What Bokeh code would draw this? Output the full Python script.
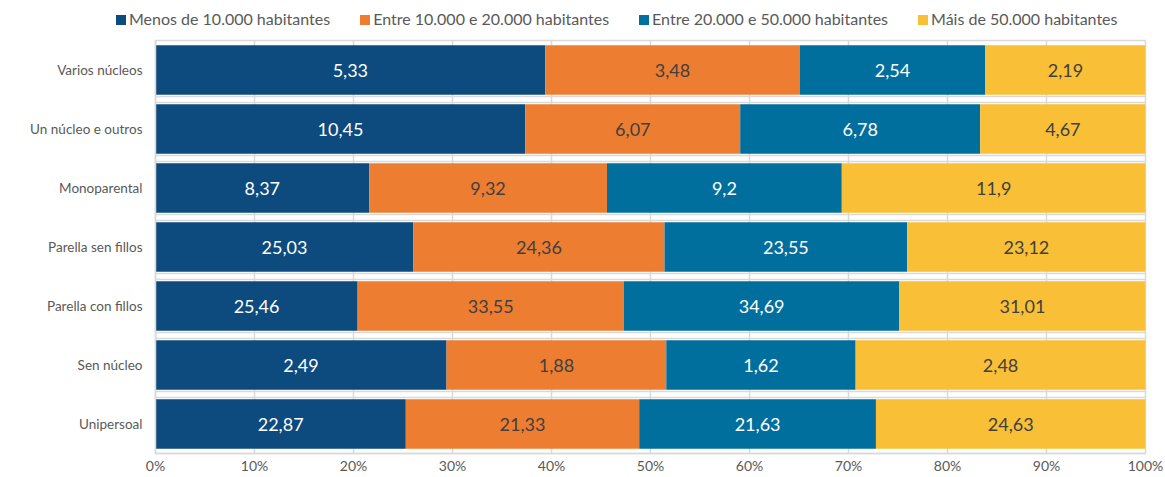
import numpy as np
from bokeh.plotting import figure
from bokeh.layouts import column
from bokeh.models import (ColumnDataSource, Range1d, FixedTicker, Grid, Div,
                          NumeralTickFormatter)
from bokeh.core.properties import value
from bokeh.embed import file_html
from bokeh.resources import INLINE

categories = ["Varios núcleos", "Un núcleo e outros", "Monoparental", "Parella sen fillos",
              "Parella con fillos", "Sen núcleo", "Unipersoal"]
series = ["Menos de 10.000 habitantes", "Entre 10.000 e 20.000 habitantes",
          "Entre 20.000 e 50.000 habitantes", "Máis de 50.000 habitantes"]
menos_10k = [5.33, 10.45, 8.37, 25.03, 25.46, 2.49, 22.87]
entre_10_20k = [3.48, 6.07, 9.32, 24.36, 33.55, 1.88, 21.33]
entre_20_50k = [2.54, 6.78, 9.2, 23.55, 34.69, 1.62, 21.63]
mais_50k = [2.19, 4.67, 11.9, 23.12, 31.01, 2.48, 24.63]
x_ticks = [0, 0.1, 0.2, 0.3, 0.4, 0.5, 0.6, 0.7, 0.8, 0.9, 1.0]

colors = ["#0D4A7E", "#ED7D31", "#016F9E", "#F9BF36"]
label_colors = ["#FFFFFF", "#404040", "#FFFFFF", "#404040"]
FONT = "Lato"
GRID = "#D9D9D9"

vals = np.array([menos_10k, entre_10_20k, entre_20_50k, mais_50k], dtype=float)
totals = vals.sum(axis=0)
shares = vals / totals
ypos = list(range(len(categories)))

W = 1163
LEFT = 155
RIGHT = 18

# ---- legend strip ----
items = "".join(
    '<span style="display:inline-flex;align-items:center;margin-right:30px">'
    f'<span style="display:inline-block;width:10px;height:10px;background:{colors[k]};margin-right:3px"></span>'
    f'{series[k]}</span>'
    for k in range(4))
legend_div = Div(
    text=('<div style="display:flex;align-items:center;height:39px;padding-left:116px;'
          f'font-family:{FONT};font-size:16px;color:#595959;white-space:nowrap">{items}</div>'),
    width=W, height=39, margin=(0, 0, 0, 0))

# ---- main chart ----
p = figure(width=W, height=442, output_backend="svg", toolbar_location=None,
           x_range=Range1d(0, 1), y_range=Range1d(len(categories) - 0.5, -0.5),
           min_border_left=LEFT, min_border_right=RIGHT, min_border_bottom=28, min_border_top=1)
p.outline_line_color = GRID
p.outline_line_width = 1.5
p.background_fill_color = "white"

p.xgrid.ticker = FixedTicker(ticks=x_ticks)
p.xgrid.grid_line_color = GRID
p.xgrid.grid_line_width = 1.5
p.ygrid.grid_line_color = None
for off in (-0.045, 0.045):
    g = Grid(dimension=1, ticker=FixedTicker(ticks=[i + 0.5 + off for i in range(len(categories) - 1)]),
             grid_line_color=GRID, grid_line_width=1.5)
    p.add_layout(g)

left = np.zeros(len(categories))
for k in range(4):
    right = left + shares[k]
    src = ColumnDataSource(dict(y=ypos, left=left, right=right,
                                xc=(left + right) / 2,
                                lab=[("%g" % v).replace(".", ",") for v in vals[k]]))
    p.hbar(y="y", left="left", right="right", height=0.84, source=src,
           fill_color=colors[k], line_color=None)
    p.text(x="xc", y="y", text="lab", source=src, text_align="center", text_baseline="middle",
           text_font=value(FONT), text_font_size="18px", text_color=label_colors[k])
    left = right

p.xaxis.ticker = FixedTicker(ticks=x_ticks)
p.xaxis.formatter = NumeralTickFormatter(format="0%")
p.yaxis.ticker = FixedTicker(ticks=ypos)
p.yaxis.major_label_overrides = {i: c for i, c in enumerate(categories)}
for ax in (p.xaxis, p.yaxis):
    ax.major_tick_line_color = None
    ax.minor_tick_line_color = None
    ax.major_tick_out = 0
    ax.major_tick_in = 0
    ax.minor_tick_out = 0
    ax.minor_tick_in = 0
    ax.axis_line_color = GRID
    ax.axis_line_width = 1.5
    ax.major_label_text_font = FONT
    ax.major_label_text_color = "#595959"
p.xaxis.major_label_text_font_size = "14px"
p.yaxis.major_label_text_font_size = "13.5px"
p.xaxis.major_label_standoff = 3
p.yaxis.major_label_standoff = 13

open("out.html", "w").write(file_html(column(legend_div, p, spacing=0), INLINE))
